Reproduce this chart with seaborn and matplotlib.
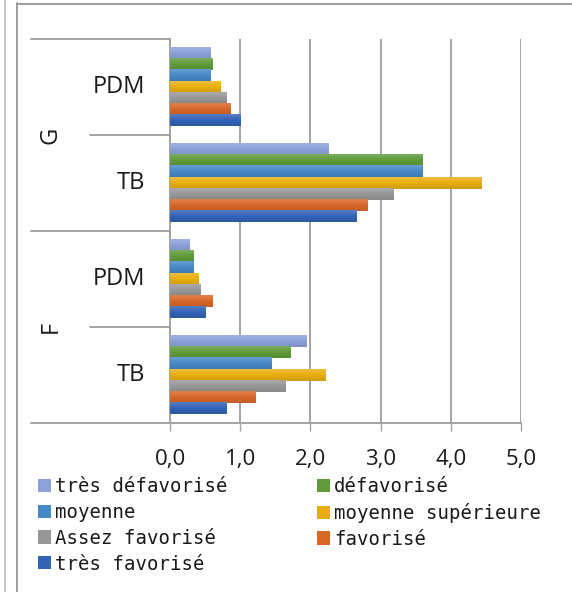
import numpy as np
import pandas as pd
import matplotlib
matplotlib.use("Agg")
import matplotlib.pyplot as plt
import seaborn as sns
from matplotlib.colors import LinearSegmentedColormap
from matplotlib.lines import Line2D
from matplotlib.patches import Patch
from matplotlib.transforms import blended_transform_factory

# Categories (outer group, inner test), top to bottom
groupes = ["G", "G", "F", "F"]
epreuves = ["PDM", "TB", "PDM", "TB"]

# Social background levels
niveaux = ["très défavorisé", "défavorisé", "moyenne", "moyenne supérieure",
           "Assez favorisé", "favorisé", "très favorisé"]

# Values per level, in category order
tres_defavorise = [0.57, 2.26, 0.28, 1.94]
defavorise = [0.61, 3.60, 0.33, 1.71]
moyenne = [0.58, 3.59, 0.33, 1.44]
moyenne_superieure = [0.72, 4.44, 0.41, 2.21]
assez_favorise = [0.80, 3.19, 0.43, 1.64]
favorise = [0.86, 2.82, 0.61, 1.22]
tres_favorise = [1.01, 2.65, 0.51, 0.81]

graduations = ["0,0", "1,0", "2,0", "3,0", "4,0", "5,0"]

couleurs = ["#8EA0DA", "#5F9B3A", "#4689C8", "#E9AE0E",
            "#979797", "#D96726", "#3462B7"]

series = [tres_defavorise, defavorise, moyenne, moyenne_superieure,
          assez_favorise, favorise, tres_favorise]
categories = [f"{g} {e}" for g, e in zip(groupes, epreuves)]
rows = []
for niv, vals in zip(niveaux, series):
    for cat, v in zip(categories, vals):
        rows.append({"categorie": cat, "niveau": niv, "valeur": v})
df = pd.DataFrame(rows)

sns.set_theme(style="white")
plt.rcParams["font.family"] = ["Open Sans", "DejaVu Sans"]

W, H = 572, 592
fig = plt.figure(figsize=(W / 100, H / 100), dpi=100)
ax = fig.add_axes([170 / W, 1 - 423 / H, 351 / W, 384 / H])

sns.barplot(data=df, x="valeur", y="categorie", hue="niveau",
            order=categories, hue_order=niveaux,
            palette=dict(zip(niveaux, couleurs)), orient="h",
            width=0.82, errorbar=None, saturation=1, legend=False,
            linewidth=0, ax=ax, zorder=3)

# Soft vertical shading on each bar
for patch in list(ax.patches):
    w = patch.get_width()
    if w <= 0:
        continue
    x0, y0, h = patch.get_x(), patch.get_y(), patch.get_height()
    base = patch.get_facecolor()[:3]
    light = tuple(np.clip(np.array(base) * 0.82 + 0.18, 0, 1))
    dark = tuple(np.clip(np.array(base) * 0.90, 0, 1))
    cmap = LinearSegmentedColormap.from_list("g", [light, base, dark])
    grad = np.linspace(0, 1, 32).reshape(-1, 1)
    ax.imshow(grad, cmap=cmap, aspect="auto", extent=[x0, x0 + w, y0 + h, y0],
              origin="upper", zorder=3.5, interpolation="bilinear")

ax.set_xlim(0, 5)
ax.set_ylim(len(categories) - 0.5, -0.5)

grid_c = "#A3A3A3"
ax.set_xticks(range(len(graduations)))
ax.set_xticklabels(graduations, fontsize=16, color="#1A1A1A")
ax.tick_params(axis="x", direction="out", length=5.8, width=1.0,
               color=grid_c, pad=13, bottom=True)
ax.set_yticks([])
ax.set_ylabel("")
ax.set_xlabel("")
ax.grid(axis="x", color=grid_c, linewidth=1.4, zorder=0)
ax.set_axisbelow(True)
for s in ["top", "right"]:
    ax.spines[s].set_visible(False)
for s in ["left", "bottom"]:
    ax.spines[s].set_color(grid_c)
    ax.spines[s].set_linewidth(1.4)

# Hierarchical category axis on the left
tr = blended_transform_factory(ax.transAxes, ax.transData)
outer_x = (31 - 170) / 351
inner_x = (90 - 170) / 351
n = len(categories)
edges = [-0.5]
for i in range(1, n):
    if groupes[i] != groupes[i - 1]:
        edges.append(i - 0.5)
edges.append(n - 0.5)
for yb in edges:
    ax.plot([outer_x, 0], [yb, yb], transform=tr, color=grid_c, lw=1.4,
            clip_on=False, zorder=1)
for i in range(1, n):
    if groupes[i] == groupes[i - 1]:
        ax.plot([inner_x, 0], [i - 0.5, i - 0.5], transform=tr, color=grid_c,
                lw=1.4, clip_on=False, zorder=1)
for i, e in enumerate(epreuves):
    ax.text((145 - 170) / 351, i, e, transform=tr, ha="right", va="center",
            fontsize=17, color="#1A1A1A")
for g in dict.fromkeys(groupes):
    idx = [i for i, gg in enumerate(groupes) if gg == g]
    ax.text((51 - 170) / 351, np.mean(idx), g, transform=tr, ha="center",
            va="center", rotation=90, fontsize=17, color="#1A1A1A")

# Legend below the plot, filled row by row over two columns
handles = [Patch(facecolor=c, edgecolor="none") for c in couleurs]
ordre = list(range(0, len(niveaux), 2)) + list(range(1, len(niveaux), 2))
fig.legend([handles[i] for i in ordre], [niveaux[i] for i in ordre],
           ncol=2, loc="upper left",
           bbox_to_anchor=(38 / W, 1 - 477 / H), frameon=False,
           prop={"family": "DejaVu Sans Mono", "size": 13.7},
           handlelength=0.68, handleheight=0.68, handletextpad=0.22,
           labelspacing=0.36, columnspacing=4.7, borderpad=0,
           borderaxespad=0, labelcolor="#1A1A1A")

# Outer frame
fig.add_artist(Line2D([5 / W, 5 / W], [0, 1], transform=fig.transFigure,
                      color="#BDBDBD", lw=1.2))
fig.add_artist(Line2D([17 / W, 17 / W], [0, 1 - 3 / H],
                      transform=fig.transFigure, color="#8F8F8F", lw=1.2))
fig.add_artist(Line2D([17 / W, 1], [1 - 3.5 / H, 1 - 3.5 / H],
                      transform=fig.transFigure, color="#8C8C8C", lw=1.2))

fig.savefig("out.png", dpi=100, facecolor="white")
